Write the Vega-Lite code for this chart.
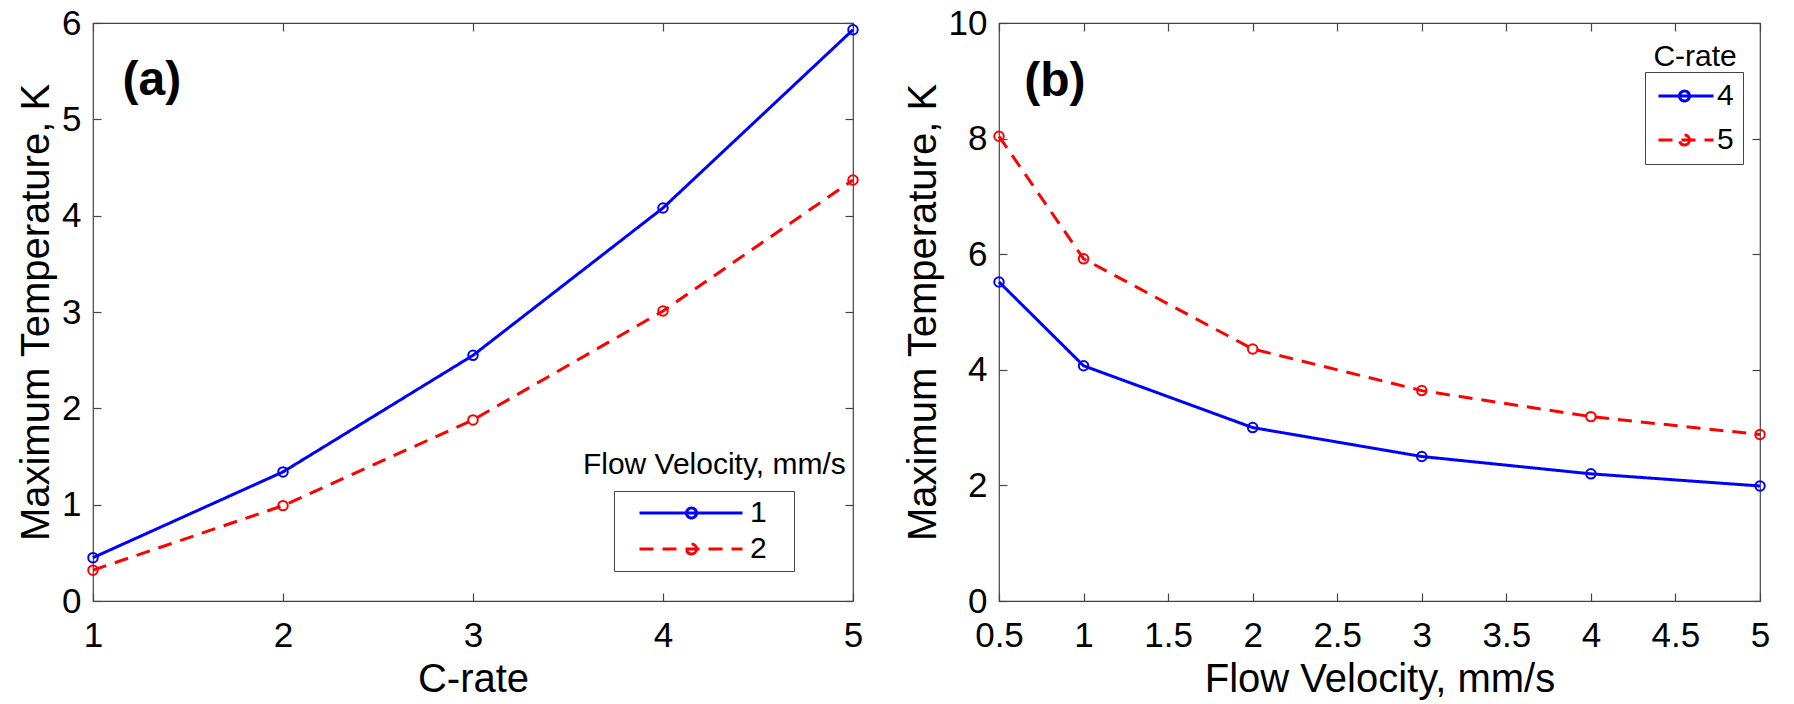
{
  "$schema": "https://vega.github.io/schema/vega-lite/v6.json",
  "background": "white",
  "padding": {"left": 15, "top": 5, "right": 5, "bottom": 5},
  "spacing": 38,
  "datasets": {
    "a": [
      {"crate": 1, "velocity": "1", "temp": 0.45},
      {"crate": 2, "velocity": "1", "temp": 1.34},
      {"crate": 3, "velocity": "1", "temp": 2.55},
      {"crate": 4, "velocity": "1", "temp": 4.08},
      {"crate": 5, "velocity": "1", "temp": 5.93},
      {"crate": 1, "velocity": "2", "temp": 0.32},
      {"crate": 2, "velocity": "2", "temp": 0.99},
      {"crate": 3, "velocity": "2", "temp": 1.88},
      {"crate": 4, "velocity": "2", "temp": 3.01},
      {"crate": 5, "velocity": "2", "temp": 4.37}
    ],
    "b": [
      {"velocity": 0.5, "crate": "4", "temp": 5.52},
      {"velocity": 1, "crate": "4", "temp": 4.07},
      {"velocity": 2, "crate": "4", "temp": 3.0},
      {"velocity": 3, "crate": "4", "temp": 2.5},
      {"velocity": 4, "crate": "4", "temp": 2.2},
      {"velocity": 5, "crate": "4", "temp": 1.99},
      {"velocity": 0.5, "crate": "5", "temp": 8.04},
      {"velocity": 1, "crate": "5", "temp": 5.92},
      {"velocity": 2, "crate": "5", "temp": 4.36},
      {"velocity": 3, "crate": "5", "temp": 3.64},
      {"velocity": 4, "crate": "5", "temp": 3.19},
      {"velocity": 5, "crate": "5", "temp": 2.88}
    ],
    "single": [{}]
  },
  "hconcat": [
    {
      "width": 760,
      "height": 578,
      "resolve": {"axis": {"x": "independent", "y": "independent"}},
      "layer": [
        {
          "data": {"name": "a"},
          "mark": {"type": "line", "strokeWidth": 3},
          "encoding": {
            "x": {"field": "crate", "type": "quantitative", "scale": {"domain": [1, 5], "nice": false, "zero": false},
                  "axis": {"orient": "bottom", "values": [1, 2, 3, 4, 5], "title": "C-rate", "labelPadding": 25, "titlePadding": 6}},
            "y": {"field": "temp", "type": "quantitative", "scale": {"domain": [0, 6], "nice": false},
                  "axis": {"orient": "left", "values": [0, 1, 2, 3, 4, 5, 6], "title": "Maximum Temperature, K", "labelPadding": 20, "titlePadding": 5}},
            "color": {"field": "velocity", "type": "nominal", "scale": {"domain": ["1", "2"], "range": ["#0000ff", "#ff0000"]},
                      "legend": {"title": null, "orient": "none", "legendX": 521, "legendY": 468,
                                 "symbolType": "M0.35,0H10.65M6.05,0A0.5,0.5 0 1,1 5.05,0A0.5,0.5 0 1,1 6.05,0M14.45,0",
                                 "symbolSize": 400, "symbolStrokeWidth": 3, "labelOffset": 99, "labelFontSize": 30,
                                 "padding": 7, "rowPadding": 6, "strokeColor": "#444", "fillColor": "white"}},
            "strokeDash": {"field": "velocity", "type": "nominal", "scale": {"domain": ["1", "2"], "range": [[1, 0], [14, 9]]},
                      "legend": {"title": null, "orient": "none", "legendX": 521, "legendY": 468,
                                 "symbolType": "M0.35,0H10.65M6.05,0A0.5,0.5 0 1,1 5.05,0A0.5,0.5 0 1,1 6.05,0M14.45,0",
                                 "symbolSize": 400, "symbolStrokeWidth": 3, "labelOffset": 99, "labelFontSize": 30,
                                 "padding": 7, "rowPadding": 6, "strokeColor": "#444", "fillColor": "white"}}
          }
        },
        {
          "data": {"name": "a"},
          "mark": {"type": "point", "filled": false, "size": 90, "strokeWidth": 2, "opacity": 1},
          "encoding": {
            "x": {"field": "crate", "type": "quantitative", "scale": {"domain": [1, 5], "nice": false, "zero": false},
                  "axis": {"orient": "top", "values": [1, 2, 3, 4, 5], "labels": false, "title": null}},
            "y": {"field": "temp", "type": "quantitative", "scale": {"domain": [0, 6], "nice": false},
                  "axis": {"orient": "right", "values": [0, 1, 2, 3, 4, 5, 6], "labels": false, "title": null}},
            "color": {"field": "velocity", "type": "nominal", "scale": {"domain": ["1", "2"], "range": ["#0000ff", "#ff0000"]}, "legend": null}
          }
        },
        {
          "data": {"name": "single"},
          "mark": {"type": "text", "fontSize": 48, "fontWeight": "bold", "baseline": "middle", "align": "center"},
          "encoding": {
            "x": {"datum": 1.31, "type": "quantitative", "axis": null},
            "y": {"datum": 5.4, "type": "quantitative", "axis": null},
            "text": {"value": "(a)"}
          }
        },
        {
          "data": {"name": "single"},
          "mark": {"type": "text", "fontSize": 30, "fontWeight": "normal", "baseline": "alphabetic", "align": "center"},
          "encoding": {
            "x": {"datum": 4.27, "type": "quantitative", "axis": null},
            "y": {"datum": 1.318, "type": "quantitative", "axis": null},
            "text": {"value": "Flow Velocity, mm/s"}
          }
        }
      ]
    },
    {
      "width": 761,
      "height": 578,
      "resolve": {"axis": {"x": "independent", "y": "independent"}},
      "layer": [
        {
          "data": {"name": "b"},
          "mark": {"type": "line", "strokeWidth": 3},
          "encoding": {
            "x": {"field": "velocity", "type": "quantitative", "scale": {"domain": [0.5, 5], "nice": false, "zero": false},
                  "axis": {"orient": "bottom", "values": [0.5, 1, 1.5, 2, 2.5, 3, 3.5, 4, 4.5, 5], "format": "~g", "title": "Flow Velocity, mm/s", "labelPadding": 25, "titlePadding": 6}},
            "y": {"field": "temp", "type": "quantitative", "scale": {"domain": [0, 10], "nice": false},
                  "axis": {"orient": "left", "values": [0, 2, 4, 6, 8, 10], "title": "Maximum Temperature, K", "labelPadding": 20, "titlePadding": 5}},
            "color": {"field": "crate", "type": "nominal", "scale": {"domain": ["4", "5"], "range": ["#0000ff", "#ff0000"]},
                      "legend": {"title": null, "orient": "none", "legendX": 646, "legendY": 49,
                                 "symbolType": "M-1.05,0H4.45M2.05,0A0.5,0.5 0 1,1 1.05,0A0.5,0.5 0 1,1 2.05,0",
                                 "symbolSize": 400, "symbolStrokeWidth": 3, "labelOffset": 33, "labelFontSize": 30,
                                 "padding": 9, "rowPadding": 14, "strokeColor": "#444", "fillColor": "white"}},
            "strokeDash": {"field": "crate", "type": "nominal", "scale": {"domain": ["4", "5"], "range": [[1, 0], [14, 9]]},
                      "legend": {"title": null, "orient": "none", "legendX": 646, "legendY": 49,
                                 "symbolType": "M-1.05,0H4.45M2.05,0A0.5,0.5 0 1,1 1.05,0A0.5,0.5 0 1,1 2.05,0",
                                 "symbolSize": 400, "symbolStrokeWidth": 3, "labelOffset": 33, "labelFontSize": 30,
                                 "padding": 9, "rowPadding": 14, "strokeColor": "#444", "fillColor": "white"}}
          }
        },
        {
          "data": {"name": "b"},
          "mark": {"type": "point", "filled": false, "size": 90, "strokeWidth": 2, "opacity": 1},
          "encoding": {
            "x": {"field": "velocity", "type": "quantitative", "scale": {"domain": [0.5, 5], "nice": false, "zero": false},
                  "axis": {"orient": "top", "values": [0.5, 1, 1.5, 2, 2.5, 3, 3.5, 4, 4.5, 5], "labels": false, "title": null}},
            "y": {"field": "temp", "type": "quantitative", "scale": {"domain": [0, 10], "nice": false},
                  "axis": {"orient": "right", "values": [0, 2, 4, 6, 8, 10], "labels": false, "title": null}},
            "color": {"field": "crate", "type": "nominal", "scale": {"domain": ["4", "5"], "range": ["#0000ff", "#ff0000"]}, "legend": null}
          }
        },
        {
          "data": {"name": "single"},
          "mark": {"type": "text", "fontSize": 48, "fontWeight": "bold", "baseline": "middle", "align": "center"},
          "encoding": {
            "x": {"datum": 0.83, "type": "quantitative", "axis": null},
            "y": {"datum": 8.98, "type": "quantitative", "axis": null},
            "text": {"value": "(b)"}
          }
        },
        {
          "data": {"name": "single"},
          "mark": {"type": "text", "fontSize": 30, "fontWeight": "normal", "baseline": "alphabetic", "align": "center"},
          "encoding": {
            "x": {"datum": 4.616, "type": "quantitative", "axis": null},
            "y": {"datum": 9.26, "type": "quantitative", "axis": null},
            "text": {"value": "C-rate"}
          }
        }
      ]
    }
  ],
  "resolve": {"scale": {"color": "independent", "strokeDash": "independent"}, "legend": {"color": "independent", "strokeDash": "independent"}},
  "config": {
    "font": "Liberation Sans",
    "view": {"stroke": "#444", "strokeWidth": 1.2},
    "text": {"font": "Liberation Sans", "color": "black"},
    "legend": {"labelFont": "Liberation Sans", "labelColor": "black"},
    "axis": {
      "domain": false,
      "grid": false,
      "tickSize": -8,
      "tickColor": "#444",
      "tickWidth": 1.2,
      "labelFont": "Liberation Sans",
      "labelFontSize": 35,
      "labelColor": "black",
      "labelFlush": false,
      "labelOverlap": false,
      "titleFont": "Liberation Sans",
      "titleFontSize": 40,
      "titleFontWeight": "normal",
      "titleColor": "black"
    }
  }
}
